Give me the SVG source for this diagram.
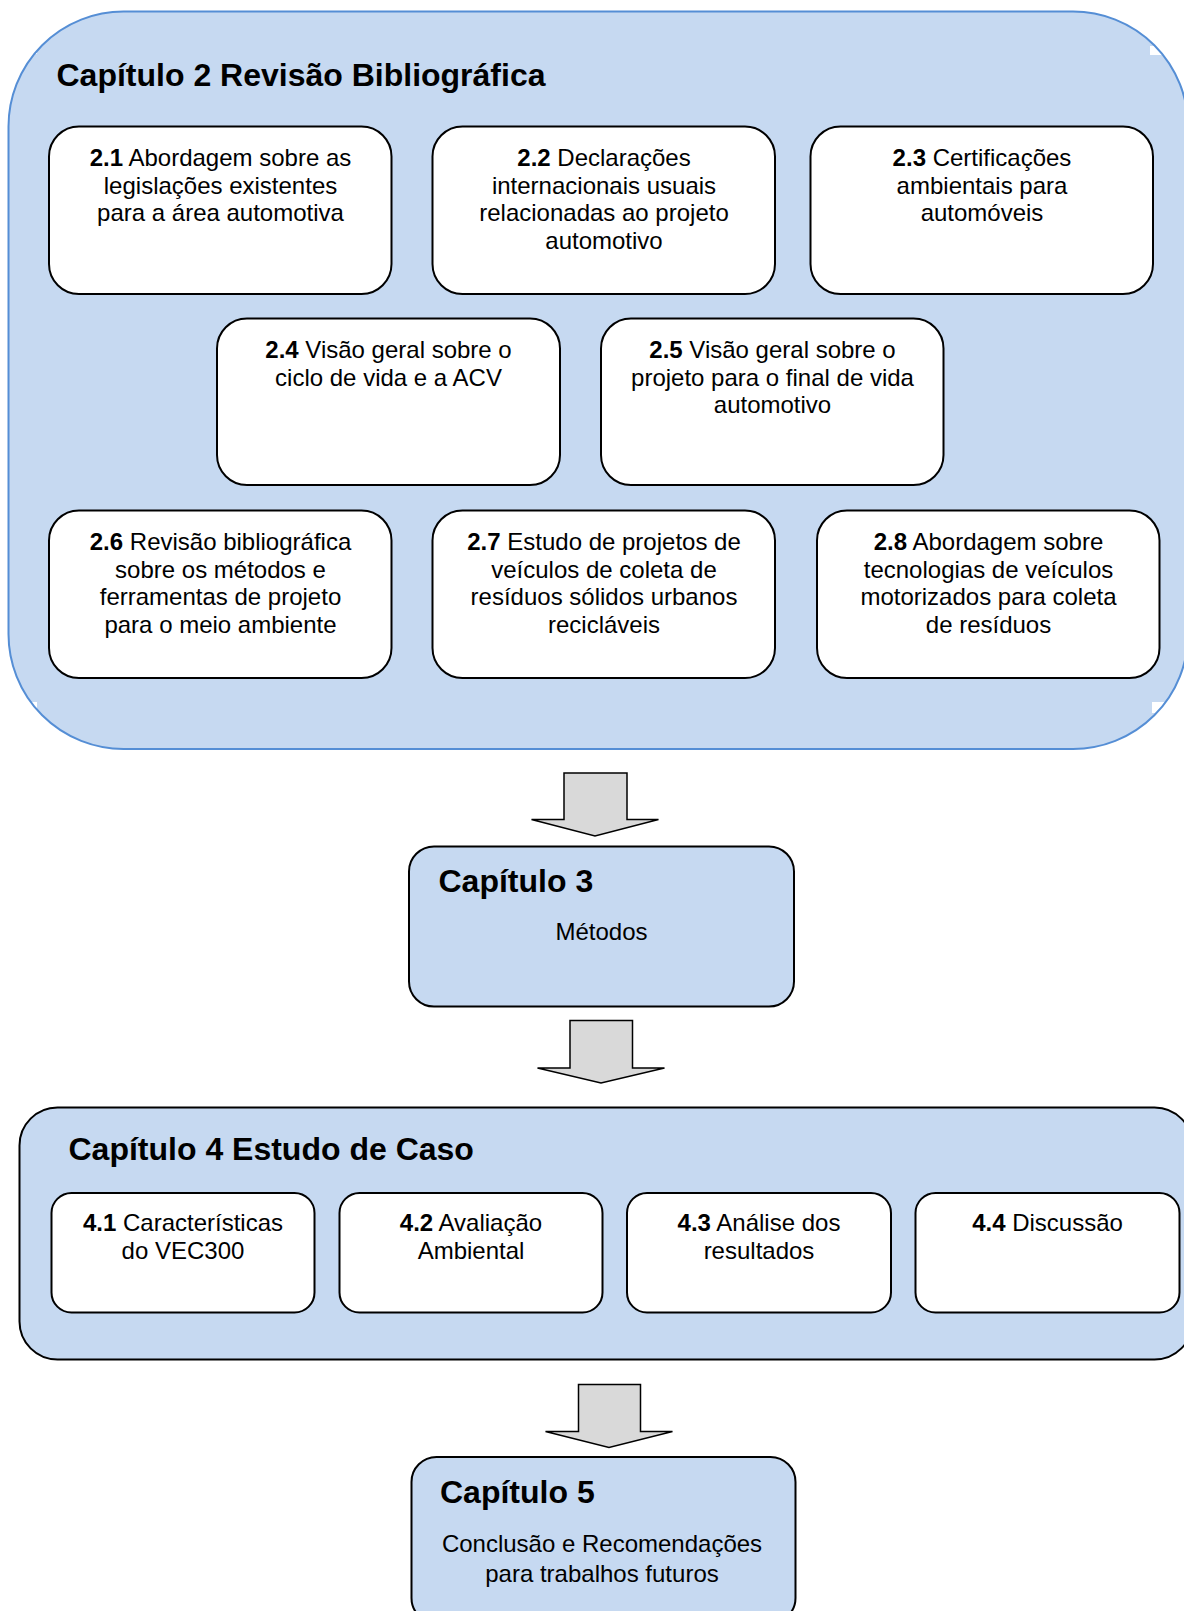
<svg xmlns="http://www.w3.org/2000/svg" width="1184" height="1611" viewBox="0 0 1184 1611">
  <style>
    text { font-family: "Liberation Sans", Arial, sans-serif; fill: #000; }
    .t  { font-size: 24px; text-anchor: middle; }
    .h  { font-size: 32px; font-weight: bold; }
    .b  { font-weight: bold; }
    .chapter { fill: #c6d9f1; stroke: #000; stroke-width: 2; }
    .card { fill: #fff; stroke: #000; stroke-width: 2; }
    .flow { fill: #d9d9d9; stroke: #000; stroke-width: 1.5; stroke-linejoin: miter; }
  </style>
  <rect width="1184" height="1611" fill="#fff"/>

  <!-- Chapter 2 container: fill, small clipped corners, then outline -->
  <g id="cap2">
    <rect x="8.5" y="11.5" width="1179.5" height="737.5" rx="115" ry="115" fill="#c6d9f1"/>
    <g fill="#fff">
      <rect x="28" y="46" width="9" height="8"/>
      <rect x="1150" y="46" width="14" height="9"/>
      <rect x="26" y="702" width="11" height="11"/>
      <rect x="1152" y="702" width="12" height="11"/>
    </g>
    <rect x="8.5" y="11.5" width="1179.5" height="737.5" rx="115" ry="115" fill="none" stroke="#558ed5" stroke-width="2"/>
    <text class="h" x="56.5" y="86">Capítulo 2 Revisão Bibliográfica</text>
  </g>

  <g id="s2_1">
    <rect class="card" x="49" y="126.5" width="342.5" height="167.5" rx="30"/>
    <text class="t" x="220.5" y="166"><tspan class="b">2.1</tspan> Abordagem sobre as</text>
    <text class="t" x="220.5" y="193.5">legislações existentes</text>
    <text class="t" x="220.5" y="221">para a área automotiva</text>
  </g>
  <g id="s2_2">
    <rect class="card" x="432.5" y="126.5" width="342.5" height="167.5" rx="30"/>
    <text class="t" x="604" y="166"><tspan class="b">2.2</tspan> Declarações</text>
    <text class="t" x="604" y="193.5">internacionais usuais</text>
    <text class="t" x="604" y="221">relacionadas ao projeto</text>
    <text class="t" x="604" y="248.5">automotivo</text>
  </g>
  <g id="s2_3">
    <rect class="card" x="810.5" y="126.5" width="342.5" height="167.5" rx="30"/>
    <text class="t" x="982" y="166"><tspan class="b">2.3</tspan> Certificações</text>
    <text class="t" x="982" y="193.5">ambientais para</text>
    <text class="t" x="982" y="221">automóveis</text>
  </g>

  <g id="s2_4">
    <rect class="card" x="217" y="318.5" width="343" height="166.5" rx="30"/>
    <text class="t" x="388.5" y="358"><tspan class="b">2.4</tspan> Visão geral sobre o</text>
    <text class="t" x="388.5" y="385.5">ciclo de vida e a ACV</text>
  </g>
  <g id="s2_5">
    <rect class="card" x="601" y="318.5" width="342.5" height="166.5" rx="30"/>
    <text class="t" x="772.5" y="358"><tspan class="b">2.5</tspan> Visão geral sobre o</text>
    <text class="t" x="772.5" y="385.5">projeto para o final de vida</text>
    <text class="t" x="772.5" y="413">automotivo</text>
  </g>

  <g id="s2_6">
    <rect class="card" x="49" y="510.5" width="342.5" height="167.5" rx="30"/>
    <text class="t" x="220.5" y="550"><tspan class="b">2.6</tspan> Revisão bibliográfica</text>
    <text class="t" x="220.5" y="577.5">sobre os métodos e</text>
    <text class="t" x="220.5" y="605">ferramentas de projeto</text>
    <text class="t" x="220.5" y="632.5">para o meio ambiente</text>
  </g>
  <g id="s2_7">
    <rect class="card" x="432.5" y="510.5" width="342.5" height="167.5" rx="30"/>
    <text class="t" x="604" y="550"><tspan class="b">2.7</tspan> Estudo de projetos de</text>
    <text class="t" x="604" y="577.5">veículos de coleta de</text>
    <text class="t" x="604" y="605">resíduos sólidos urbanos</text>
    <text class="t" x="604" y="632.5">recicláveis</text>
  </g>
  <g id="s2_8">
    <rect class="card" x="817" y="510.5" width="342.5" height="167.5" rx="30"/>
    <text class="t" x="988.5" y="550"><tspan class="b">2.8</tspan> Abordagem sobre</text>
    <text class="t" x="988.5" y="577.5">tecnologias de veículos</text>
    <text class="t" x="988.5" y="605">motorizados para coleta</text>
    <text class="t" x="988.5" y="632.5">de resíduos</text>
  </g>

  <!-- Chapter 3 -->
  <g id="cap3">
    <rect class="chapter" x="409" y="846.5" width="385" height="160" rx="25"/>
    <text class="h" x="438.5" y="892">Capítulo 3</text>
    <text class="t" x="601.5" y="940">Métodos</text>
  </g>

  <!-- Chapter 4 container -->
  <g id="cap4">
    <rect class="chapter" x="19.5" y="1107.5" width="1173" height="252" rx="38"/>
    <text class="h" x="68.5" y="1160">Capítulo 4 Estudo de Caso</text>
  </g>
  <g id="s4_1">
    <rect class="card" x="51.5" y="1193" width="263" height="119.5" rx="20"/>
    <text class="t" x="183" y="1231"><tspan class="b">4.1</tspan> Características</text>
    <text class="t" x="183" y="1258.5">do VEC300</text>
  </g>
  <g id="s4_2">
    <rect class="card" x="339.5" y="1193" width="263" height="119.5" rx="20"/>
    <text class="t" x="471" y="1231"><tspan class="b">4.2</tspan> Avaliação</text>
    <text class="t" x="471" y="1258.5">Ambiental</text>
  </g>
  <g id="s4_3">
    <rect class="card" x="627" y="1193" width="264" height="119.5" rx="20"/>
    <text class="t" x="759" y="1231"><tspan class="b">4.3</tspan> Análise dos</text>
    <text class="t" x="759" y="1258.5">resultados</text>
  </g>
  <g id="s4_4">
    <rect class="card" x="915.5" y="1193" width="264" height="119.5" rx="20"/>
    <text class="t" x="1047.5" y="1231"><tspan class="b">4.4</tspan> Discussão</text>
  </g>

  <!-- Chapter 5 -->
  <g id="cap5">
    <rect class="chapter" x="411.5" y="1457" width="384" height="166" rx="25"/>
    <text class="h" x="440" y="1503">Capítulo 5</text>
    <text class="t" x="602" y="1552">Conclusão e Recomendações</text>
    <text class="t" x="602" y="1582">para trabalhos futuros</text>
  </g>

  <!-- Block arrows between chapters -->
  <g id="connectors">
    <path class="flow" d="M564,773 H627 V819.5 H658.5 L595,836 L531.5,819.5 H564 Z"/>
    <path class="flow" d="M570,1020.5 H632.5 V1068 H664.5 L601,1083 L537.5,1068 H570 Z"/>
    <path class="flow" d="M578.5,1384.5 H640.5 V1431.5 H672.5 L609,1447.5 L545.5,1431.5 H578.5 Z"/>
  </g>
</svg>
